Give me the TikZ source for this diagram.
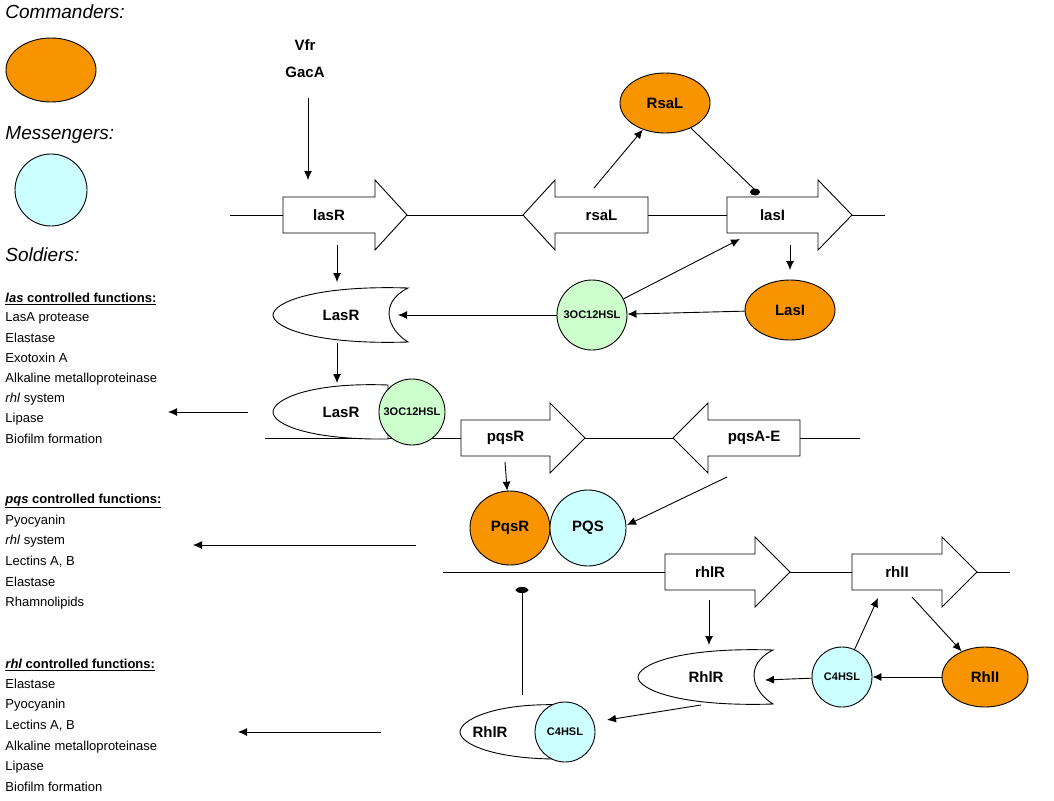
\documentclass[tikz,border=0pt]{standalone}
\usepackage{fontspec}
\setmainfont{Liberation Sans}
\usetikzlibrary{arrows.meta,shapes.geometric}
\definecolor{cmd}{RGB}{247,148,0}
\definecolor{msg}{RGB}{204,255,255}
\definecolor{ahl}{RGB}{204,255,204}
\begin{document}
\begin{tikzpicture}[x=1pt,y=-1pt,line width=0.9pt,
  ar/.style={-{Latex[length=9pt,width=8pt]}},
  lab/.style={font=\fontsize{15}{15}\selectfont\bfseries},
  sm/.style={font=\fontsize{11}{11}\selectfont\bfseries},
  lst/.style={anchor=west,font=\fontsize{13}{13}\selectfont,inner sep=0},
  hd/.style={anchor=west,font=\fontsize{19}{19}\selectfont\itshape,inner sep=0},
  com/.style={ellipse,draw,fill=cmd,minimum width=#1,minimum height=60pt,inner sep=0,lab},
  blunt/.style={fill=black,draw=black}]
\useasboundingbox (0,0) rectangle (1054,800);
% headings
\node[hd] (hc) at (5,12) {Commanders:};
\node[hd] (hm) at (5,135) {Messengers:};
\node[hd] (hs) at (5,255) {Soldiers:};
\node[ellipse,draw,fill=cmd,minimum width=90pt,minimum height=64pt] (lc) at (51,70) {};
\node[circle,draw,fill=msg,minimum size=72pt] (lm) at (51,190) {};
% lists
\node[lst] (l0) at (5,299) {\bfseries\underline{\itshape las\upshape\ controlled functions:}};
\foreach \t [count=\i] in {LasA protease,Elastase,Exotoxin A,Alkaline metalloproteinase,\textit{rhl} system,Lipase,Biofilm formation}
  \node[lst] (la\i) at (5,299+20.2*\i) {\strut\t};
\node[lst] (p0) at (5,501) {\bfseries\underline{\itshape pqs\upshape\ controlled functions:}};
\foreach \t [count=\i] in {Pyocyanin,\textit{rhl} system,{Lectins A, B},Elastase,Rhamnolipids}
  \node[lst] (pa\i) at (5,501+20.6*\i) {\strut\t};
\node[lst] (r0) at (5,665) {\bfseries\underline{\itshape rhl\upshape\ controlled functions:}};
\foreach \t [count=\i] in {Elastase,Pyocyanin,{Lectins A, B},Alkaline metalloproteinase,Lipase,Biofilm formation}
  \node[lst] (ra\i) at (5,665+20.6*\i) {\strut\t};
% DNA lines
\draw (230,215) -- (885,215);
\draw (265,438) -- (860,438);
\draw (443,572) -- (1010,572);
% genes
\newcommand\gR[6]{%
  \draw[fill=white] (#1,#4-18) -- (#2,#4-18) -- (#2,#4-35) -- (#3,#4) -- (#2,#4+35) -- (#2,#4+18) -- (#1,#4+18) -- cycle;
  \node[lab] (#5) at ({(#1+#2)/2},#4) {#6};}
\newcommand\gL[6]{%
  \draw[fill=white] (#3,#4-18) -- (#2,#4-18) -- (#2,#4-35) -- (#1,#4) -- (#2,#4+35) -- (#2,#4+18) -- (#3,#4+18) -- cycle;
  \node[lab] (#5) at ({(#2+#3)/2},#4) {#6};}
\gR{283}{375}{407}{215}{glasR}{lasR}
\gL{523}{555}{648}{215}{grsaL}{rsaL}
\gR{727}{818}{852}{215}{glasI}{lasI}
\gR{461}{550}{585}{438}{gpqsR}{pqsR}
\gL{673}{708}{800}{438}{gpqsA}{pqsA-E}
\gR{665}{755}{790}{572}{grhlR}{rhlR}
\gR{852}{942}{977}{572}{grhlI}{rhlI}
% receptors
\newcommand\rec[4]{%
  \draw[fill=white] (#1+135,#2-27) .. controls (#1+40,#2-30) and (#1,#2-12) .. (#1,#2)
     .. controls (#1,#2+12) and (#1+40,#2+30) .. (#1+135,#2+27)
     .. controls (#1+115,#2+15) and (#1+105,#2-12) .. cycle;
  \node[lab] (#3) at (#1+68,#2) {#4};}
\newcommand\brec[6]{% x_left yc name label width labelx
  \draw[fill=white] (#1+#5,#2-27) .. controls (#1+35,#2-30) and (#1,#2-12) .. (#1,#2)
     .. controls (#1,#2+12) and (#1+35,#2+28) .. (#1+#5,#2+27) -- cycle;
  \node[lab] (#3) at (#1+#6,#2) {#4};}
\rec{273}{315}{LasR}{LasR}
\brec{273}{412}{LasRb}{LasR}{115}{68}
\node[circle,draw,fill=ahl,minimum size=66pt,inner sep=0,sm] (oc2) at (412,412) {3OC12HSL};
\rec{638}{677}{RhlR}{RhlR}
\brec{460}{732}{RhlRb}{RhlR}{105}{30}
\node[circle,draw,fill=msg,minimum size=60pt,inner sep=0,sm] (c4b) at (565,732) {C4HSL};
% commanders / messengers
\node[com=90pt] (RsaL) at (665,103) {RsaL};
\node[com=90pt] (LasI) at (790,310) {LasI};
\node[com=86pt] (RhlI) at (985,677) {RhlI};
\node[ellipse,draw,fill=cmd,minimum width=80pt,minimum height=74pt,inner sep=0,lab] (PqsR) at (510,528) {PqsR};
\node[circle,draw,fill=msg,minimum size=76pt,inner sep=0,lab] (PQS) at (588,528) {PQS};
\node[circle,draw,fill=ahl,minimum size=70pt,inner sep=0,sm] (oc) at (592,315) {3OC12HSL};
\node[circle,draw,fill=msg,minimum size=60pt,inner sep=0,sm] (c4) at (842,677) {C4HSL};
\node[lab] (vfr) at (305,45) {Vfr};
\node[lab] (gac) at (305,72) {GacA};
% arrows
\coordinate (a1) at (308,180);
\draw[ar] (308,98) -- (a1);
\draw[ar] (594,188) -- (RsaL);
\draw (RsaL) -- (755,190);
\draw[blunt] (755,192) ellipse (4.5pt and 3pt);
\draw[ar] (790,245) -- (790,270);
\draw[ar] (LasI) -- (oc);
\draw[ar] (oc) -- (740,239);
\draw[ar] (oc) -- (398,315);
\draw[ar] (337,245) -- (337,282);
\draw[ar] (337,343) -- (337,383);
\draw[ar] (248,412) -- (168,412);
\draw[ar] (505,462) -- (PqsR);
\draw[ar] (727,477) -- (627,525);
\draw[ar] (416,545) -- (193,545);
\draw[ar] (709,600) -- (709,645);
\draw[ar] (c4) -- (765,680);
\draw[ar] (RhlI) -- (c4);
\draw[ar] (c4) -- (878,598);
\draw[ar] (912,597) -- (RhlI);
\draw[ar] (701,705) -- (607,720);
\draw (522,695) -- (522,592);
\draw[blunt] (522,590) ellipse (6pt and 2.5pt);
\draw[ar] (381,732) -- (238,732);
\end{tikzpicture}
\end{document}
